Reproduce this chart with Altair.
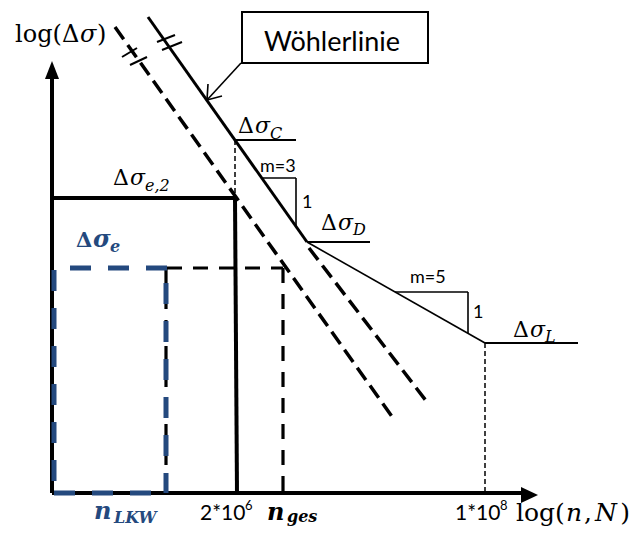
import altair as alt
import pandas as pd

# ---------------- schematic geometry (x to the right, y downward) ----------------
axis_lines   = [(52, 493, 52, 79), (52, 493, 522, 493)]
wohler_steep = [(148, 17, 307, 242)]                       # m = 3 branch
thin_lines   = [(307, 242, 485, 343),                     # m = 5 branch
                (263, 178, 296, 178), (296, 178, 296, 226),   # slope triangle m=3
                (395, 292, 468, 292), (468, 292, 468, 333),   # slope triangle m=5
                (241, 63, 207, 100), (207, 100, 208, 84), (207, 100, 222, 96)]  # callout arrow
level_lines  = [(235, 140, 296, 140), (307, 242, 370, 242), (485, 343, 578, 343)]
break_ticks  = [(157, 42, 175, 35), (162, 50, 182, 42), (122, 57, 137, 48), (130, 65, 147, 57)]
thick_lines  = [(50, 198, 237, 198), (235, 198, 237, 493)]
dashed_diag  = [(115, 27, 393, 418), (309, 248, 427, 402)]
dashed_box   = [(167, 268, 283, 268), (283, 268, 283, 493), (166, 268, 166, 493)]
dashed_thin  = [(235, 140, 235, 197), (485, 343, 485, 493)]
blue_dashed  = [(167, 268, 53, 268), (54, 270, 54, 493), (54, 493, 166, 493), (166, 283, 166, 493)]

y_arrow_y  = [61, 79]
y_arrow_x  = [52, 45]
y_arrow_x2 = [52, 59]
x_arrow_x  = [521, 538]
x_arrow_y  = [487, 495]
x_arrow_y2 = [503, 495]

box = [(242, 12, 428, 63)]

# text pieces: (x, baseline y, text)
t_logy      = [(15, 42, "log("), (62, 42, "Δ"), (97, 42, ")")]
t_logy_it   = [(80, 42, "σ")]
t_serif     = [(238, 133, "Δ"), (321, 230, "Δ"), (513, 337, "Δ"), (113, 185, "Δ")]
t_serif_it  = [(255, 133, "σ"), (338, 230, "σ"), (530, 337, "σ"), (130, 185, "σ")]
t_sub_it    = [(270, 139, "C"), (353, 235, "D"), (545, 342, "L"), (145, 191, "e,2")]
t_logx      = [(516, 521, "log("), (584, 521, ",")]
t_logx_it   = [(566, 521, "n"), (595, 521, "N")]
t_logx_end  = [(630, 521, ")")]
t_sans_big  = [(332, 51, "Wöhlerlinie")]
t_sans      = [(260, 172, "m=3"), (302, 208, "1"), (410, 283, "m=5"), (473, 318, "1")]
t_numbers   = [(200, 520, "2*10"), (455, 520, "1*10")]
t_sup       = [(245, 510, "6"), (500, 510, "8")]
t_blue_b    = [(76, 247, "Δ")]
t_blue_bi   = [(93, 247, "σ"), (94, 519, "n")]
t_blue_sub  = [(114, 523, "LKW"), (110, 252, "e")]
t_black_bi  = [(267, 520, "n")]
t_black_sub = [(287, 522, "ges")]

BLUE = "#24497E"

xs = alt.Scale(domain=[8, 630], nice=False, zero=False)
ys = alt.Scale(domain=[8, 527], nice=False, zero=False, reverse=True)


def seg_df(rows):
    return pd.DataFrame(rows, columns=["x", "y", "x2", "y2"])


def rules(rows, width, color="black", dash=None):
    kw = dict(strokeWidth=width, color=color)
    if dash:
        kw["strokeDash"] = dash
    return alt.Chart(seg_df(rows)).mark_rule(**kw).encode(
        x=alt.X("x:Q", scale=xs, axis=None), x2="x2:Q",
        y=alt.Y("y:Q", scale=ys, axis=None), y2="y2:Q")


def texts(rows, font, size, color="black", style="normal", weight="normal", align="left"):
    df = pd.DataFrame(rows, columns=["x", "y", "t"])
    return alt.Chart(df).mark_text(align=align, baseline="alphabetic", font=font, fontSize=size,
                                   fontStyle=style, fontWeight=weight, color=color).encode(
        x=alt.X("x:Q", scale=xs, axis=None), y=alt.Y("y:Q", scale=ys, axis=None), text="t:N")


SERIF = "DejaVu Serif"
SANS = "Lato"

box_layer = alt.Chart(seg_df(box)).mark_rect(fill="white", stroke="black", strokeWidth=2).encode(
    x=alt.X("x:Q", scale=xs, axis=None), x2="x2:Q",
    y=alt.Y("y:Q", scale=ys, axis=None), y2="y2:Q")

y_arrow = alt.Chart(pd.DataFrame({"y": y_arrow_y, "x": y_arrow_x, "x2": y_arrow_x2})).mark_area(
    orient="horizontal", color="black").encode(
    y=alt.Y("y:Q", scale=ys, axis=None), x=alt.X("x:Q", scale=xs, axis=None), x2="x2:Q")

x_arrow = alt.Chart(pd.DataFrame({"x": x_arrow_x, "y": x_arrow_y, "y2": x_arrow_y2})).mark_area(
    orient="vertical", color="black").encode(
    x=alt.X("x:Q", scale=xs, axis=None), y=alt.Y("y:Q", scale=ys, axis=None), y2="y2:Q")

layers = [
    rules(dashed_thin, 1.5, dash=[5, 3]),
    rules(dashed_diag, 3.5, dash=[15, 7]),
    rules(dashed_box, 3.2, dash=[15, 11]),
    rules(thick_lines, 4),
    rules(axis_lines, 4),
    rules(blue_dashed, 5, color=BLUE, dash=[21, 17]),
    rules(wohler_steep, 3),
    rules(thin_lines, 1.6),
    rules(level_lines, 2),
    rules(break_ticks, 2),
    y_arrow, x_arrow, box_layer,
    texts(t_logy, SERIF, 24),
    texts(t_logy_it, SERIF, 24, style="italic"),
    texts(t_serif, SERIF, 22),
    texts(t_serif_it, SERIF, 22, style="italic"),
    texts(t_sub_it, SERIF, 16, style="italic"),
    texts(t_logx, SERIF, 25),
    texts(t_logx_it, SERIF, 25, style="italic"),
    texts(t_logx_end, SERIF, 25, align="right"),
    texts(t_sans_big, SANS, 27, align="center"),
    texts(t_sans, SANS, 18),
    texts(t_numbers, SANS, 21),
    texts(t_sup, SANS, 13),
    texts(t_blue_b, SERIF, 21, color=BLUE, weight="bold"),
    texts(t_blue_bi, SERIF, 24, color=BLUE, style="italic", weight="bold"),
    texts(t_blue_sub, SERIF, 16, color=BLUE, style="italic", weight="bold"),
    texts(t_black_bi, SERIF, 24, style="italic", weight="bold"),
    texts(t_black_sub, SERIF, 16, style="italic", weight="bold"),
]

chart = alt.layer(*layers).properties(
    width=622, height=519, autosize="none", padding=0
).configure_view(stroke=None)

chart.save("out.html", embed_options={"renderer": "svg", "actions": False})
